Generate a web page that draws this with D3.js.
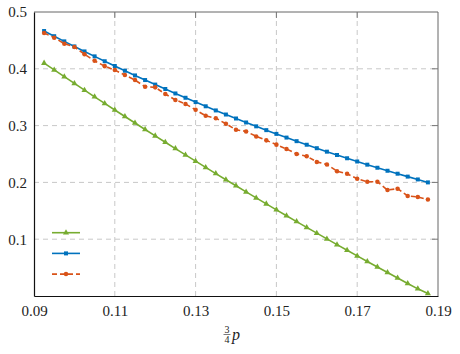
<!DOCTYPE html>
<meta charset="utf-8">
<style>
  body { margin: 0; background: #fff; }
  svg text { font-family: "Liberation Serif", "Times New Roman", "DejaVu Serif", serif !important; fill: #222; }
</style>
<script src="https://d3js.org/d3.v7.min.js"></script>
<body>
<div id="chart"></div>
<script>
  // x values: 3/4 p
  const xVals = [0.0925, 0.095, 0.0975, 0.1, 0.1025, 0.105, 0.1075, 0.11, 0.1125, 0.115,
    0.1175, 0.12, 0.1225, 0.125, 0.1275, 0.13, 0.1325, 0.135, 0.1375, 0.14,
    0.1425, 0.145, 0.1475, 0.15, 0.1525, 0.155, 0.1575, 0.16, 0.1625, 0.165,
    0.1675, 0.17, 0.1725, 0.175, 0.1775, 0.18, 0.1825, 0.185, 0.1875];

  // green, triangles
  const greenVals = [0.410, 0.398, 0.3861, 0.3742, 0.3624, 0.3507, 0.3391, 0.3275, 0.3160, 0.3045,
    0.2932, 0.2819, 0.2706, 0.2595, 0.2484, 0.2374, 0.2264, 0.2155, 0.2047, 0.1940,
    0.1833, 0.1727, 0.1622, 0.1517, 0.1413, 0.1310, 0.1208, 0.1106, 0.1005, 0.0904,
    0.0805, 0.0706, 0.0607, 0.0510, 0.0413, 0.0317, 0.0221, 0.0126, 0.0045];

  // blue, squares
  const blueVals = [0.4665, 0.4574, 0.4483, 0.4394, 0.4306, 0.4219, 0.4133, 0.4049, 0.3966, 0.3883,
    0.3802, 0.3722, 0.3644, 0.3566, 0.3490, 0.3414, 0.3340, 0.3267, 0.3195, 0.3125,
    0.3055, 0.2987, 0.2920, 0.2854, 0.2789, 0.2726, 0.2663, 0.2602, 0.2541, 0.2482,
    0.2425, 0.2368, 0.2312, 0.2258, 0.2205, 0.2153, 0.2102, 0.2052, 0.2000];

  // orange dashed, circles
  const orangeVals = [0.463, 0.4548, 0.4443, 0.4385, 0.4257, 0.414, 0.4047, 0.3977, 0.3889, 0.3802,
    0.3685, 0.3673, 0.3557, 0.3452, 0.3382, 0.3277, 0.3172, 0.3131, 0.3032, 0.2927,
    0.2898, 0.2810, 0.2740, 0.2665, 0.2589, 0.2501, 0.2461, 0.2361, 0.2315, 0.2198,
    0.2152, 0.2064, 0.2012, 0.2012, 0.1866, 0.1889, 0.1761, 0.1743, 0.1700];

  const xTicks = [0.09, 0.11, 0.13, 0.15, 0.17, 0.19];
  const yTicks = [0.1, 0.2, 0.3, 0.4, 0.5];

  const W = 460, H = 354;
  const margin = {top: 12, right: 22, bottom: 58, left: 34};
  const width = W - margin.left - margin.right,
        height = H - margin.top - margin.bottom;
  const serif = '"Liberation Serif", "Times New Roman", "DejaVu Serif", serif';

  const svg = d3.select("#chart").append("svg")
    .attr("width", W).attr("height", H);
  const g = svg.append("g").attr("transform", `translate(${margin.left},${margin.top})`);

  const x = d3.scaleLinear().domain([0.09, 0.19]).range([0, width]);
  const y = d3.scaleLinear().domain([0, 0.5]).range([height, 0]);

  // 网格线
  g.append("g").selectAll("line.vg").data(xTicks.slice(1, -1)).join("line")
    .attr("x1", d => x(d)).attr("x2", d => x(d)).attr("y1", 0).attr("y2", height)
    .attr("stroke", "#c8c8c8").attr("stroke-dasharray", "5,4").attr("stroke-width", 1);
  g.append("g").selectAll("line.hg").data(yTicks.slice(0, -1)).join("line")
    .attr("x1", 0).attr("x2", width).attr("y1", d => y(d)).attr("y2", d => y(d))
    .attr("stroke", "#c8c8c8").attr("stroke-dasharray", "5,4").attr("stroke-width", 1);

  // 边框与刻度
  g.append("line").attr("x1", 0).attr("x2", width).attr("y1", 0).attr("y2", 0)
    .attr("stroke", "#666").attr("stroke-width", 1);
  g.append("line").attr("x1", width).attr("x2", width).attr("y1", 0).attr("y2", height)
    .attr("stroke", "#666").attr("stroke-width", 1);

  g.append("g").selectAll("line").data(yTicks.slice(0, -1)).join("line")
    .attr("x1", width - 6).attr("x2", width).attr("y1", d => y(d)).attr("y2", d => y(d))
    .attr("stroke", "#777");
  g.append("g").selectAll("line").data(xTicks.slice(1, -1)).join("line")
    .attr("x1", d => x(d)).attr("x2", d => x(d)).attr("y1", 0).attr("y2", 6)
    .attr("stroke", "#777");

  const xAxis = g.append("g").attr("transform", `translate(0,${height})`)
    .call(d3.axisBottom(x).tickValues(xTicks).tickSize(0).tickPadding(9)
      .tickFormat(d3.format(".2f")));
  const yAxis = g.append("g")
    .call(d3.axisLeft(y).tickValues(yTicks).tickSize(0).tickPadding(7)
      .tickFormat(d3.format(".1f")));
  [xAxis, yAxis].forEach(a => {
    a.attr("font-family", null);
    a.select(".domain").attr("stroke", "#111").attr("stroke-width", 1.2);
    a.selectAll("text").attr("font-size", 15).attr("fill", "#222")
      .style("font-family", serif);
  });

  // 数据序列
  const series = [
    {name: "green", vals: greenVals, color: "#77AC30", dash: null, marker: d3.symbolTriangle, size: 16},
    {name: "blue", vals: blueVals, color: "#0072BD", dash: null, marker: d3.symbolSquare, size: 16},
    {name: "orange", vals: orangeVals, color: "#D95319", dash: "5,3", marker: d3.symbolCircle, size: 16}
  ];

  const line = d3.line().x(d => x(d[0])).y(d => y(d[1]));

  series.forEach(s => {
    const pts = xVals.map((xv, i) => [xv, s.vals[i]]);
    g.append("path").datum(pts)
      .attr("fill", "none").attr("stroke", s.color).attr("stroke-width", 1.6)
      .attr("stroke-dasharray", s.dash)
      .attr("d", line);
    g.append("g").selectAll("path").data(pts).join("path")
      .attr("transform", d => `translate(${x(d[0])},${y(d[1])})`)
      .attr("d", d3.symbol().type(s.marker).size(s.size))
      .attr("fill", s.color);
  });

  // 图例（无文字）
  const legend = g.append("g");
  series.forEach((s, i) => {
    const ly = y(0.1) - 6.5 + i * 20.7;
    legend.append("line")
      .attr("x1", 18).attr("x2", 46).attr("y1", ly).attr("y2", ly)
      .attr("stroke", s.color).attr("stroke-width", 1.6)
      .attr("stroke-dasharray", s.dash);
    legend.append("path")
      .attr("transform", `translate(32,${ly})`)
      .attr("d", d3.symbol().type(s.marker).size(s.size))
      .attr("fill", s.color);
  });

  // x轴标题: 3/4 p
  const lab = svg.append("g")
    .attr("transform", `translate(${margin.left + width / 2 - 6},${H - 15})`);
  lab.append("text").attr("x", -3).attr("y", -6).attr("text-anchor", "middle")
    .attr("font-size", 10).style("font-family", serif).text("3");
  lab.append("line").attr("x1", -6.5).attr("x2", 0.5).attr("y1", -4.5).attr("y2", -4.5)
    .attr("stroke", "#222").attr("stroke-width", 0.6);
  lab.append("text").attr("x", -3).attr("y", 4).attr("text-anchor", "middle")
    .attr("font-size", 10).style("font-family", serif).text("4");
  lab.append("text").attr("x", 2).attr("y", 1).attr("font-size", 16)
    .style("font-family", serif).attr("font-style", "italic").text("p");
</script>
</body>
